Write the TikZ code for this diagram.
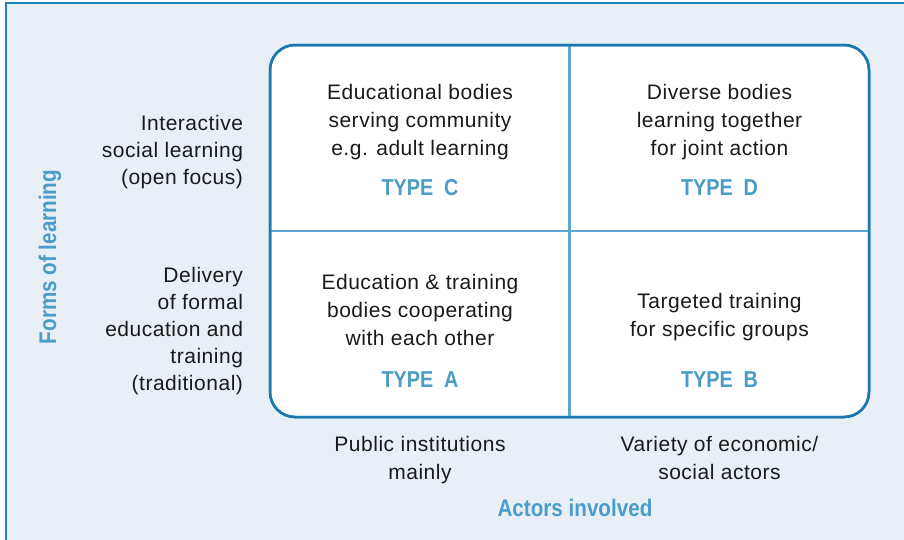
\documentclass[tikz,border=0pt]{standalone}
\usepackage{fontspec}
\setmainfont{Liberation Sans}[LetterSpace=2.5]
\newfontfamily\hdfont{Liberation Sans}[FakeStretch=0.86]
\definecolor{bgfill}{HTML}{E8EFF6}
\definecolor{framecol}{HTML}{1F84B8}
\definecolor{gridcol}{HTML}{1A78AE}
\definecolor{divcol}{HTML}{5AA8D2}
\definecolor{typecol}{HTML}{4B9CC8}
\definecolor{txtcol}{HTML}{1A1A1A}
\begin{document}
\begin{tikzpicture}[x=1pt,y=-1pt,
  every node/.style={inner sep=0pt,outer sep=0pt},
  body/.style={font=\fontsize{21}{28}\selectfont, align=center, anchor=base, text=txtcol},
  side/.style={font=\fontsize{21}{27}\selectfont, align=right, anchor=base east, text=txtcol},
  typelbl/.style={font=\hdfont\bfseries\fontsize{23}{28}\selectfont, anchor=base, text=typecol},
  axislbl/.style={font=\hdfont\bfseries\fontsize{24}{28}\selectfont, anchor=base, text=typecol},
  gridbox/.style={draw=gridcol, line width=2.5pt, fill=white, rounded corners=25pt},
  divider/.style={draw=divcol, line width=2.5pt}]
\useasboundingbox (0,0) rectangle (904,539);
\begin{scope}
\clip (0,0) rectangle (904,539);
\fill[bgfill] (5.5,3) rectangle (930,570);
\draw[framecol, line width=2pt] (5.5,570) -- (5.5,3) -- (930,3);
\end{scope}
% grid
\node[gridbox, minimum width=599pt, minimum height=372pt] (grid) at (569.5,231) {};
\draw[divider] (grid.north) -- (grid.south);
\draw[divider] (grid.west) -- (grid.east);
\node[draw=gridcol, line width=2.5pt, rounded corners=25pt, minimum width=599pt, minimum height=372pt] (gridframe) at (grid.center) {};
% cells (anchor base = baseline of the last line)
\node[body] (c) at (420,155) {Educational bodies\\serving community\\e.g. adult learning};
\node[typelbl] (tc) at (420,195) {TYPE\ \ C};
\node[body] (d) at (719.5,155) {Diverse bodies\\learning together\\for joint action};
\node[typelbl] (td) at (719.5,195) {TYPE\ \ D};
\node[body] (a) at (420,345) {Education \& training\\bodies cooperating\\with each other};
\node[typelbl] (ta) at (420,387) {TYPE\ \ A};
\node[body] (b) at (719.5,336) {Targeted training\\for specific groups};
\node[typelbl] (tb) at (719.5,387) {TYPE\ \ B};
% side labels
\node[side] (s1) at (243,184.5) {Interactive\\social learning\\(open focus)};
\node[side] (s2) at (243,390) {Delivery\\of formal\\education and\\training\\(traditional)};
% bottom labels
\node[body] (b1) at (420,479.5) {Public institutions\\mainly};
\node[body] (b2) at (719.5,479.5) {Variety of economic/\\social actors};
% axis labels
\node[axislbl] (xa) at (575,516) {Actors involved};
\node[axislbl, rotate=90] (ya) at (56,257) {Forms of learning};
\end{tikzpicture}
\end{document}
